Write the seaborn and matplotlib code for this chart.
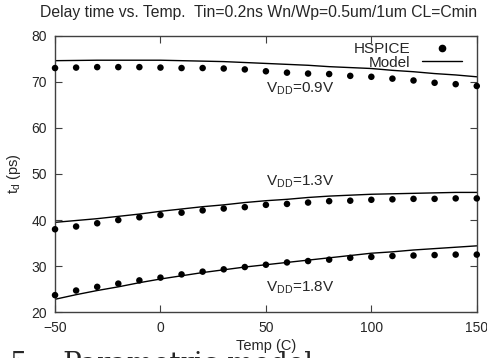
import matplotlib
matplotlib.use("Agg")
import matplotlib.pyplot as plt
from matplotlib.lines import Line2D
import seaborn as sns
import pandas as pd

# HSPICE points, every 10 C
temp_pts = [-50, -40, -30, -20, -10, 0, 10, 20, 30, 40, 50, 60, 70, 80, 90, 100, 110, 120, 130, 140, 150]
hspice_09 = [73.0, 73.1, 73.2, 73.2, 73.2, 73.1, 73.0, 73.0, 72.9, 72.7, 72.3, 72.0, 71.8, 71.7, 71.3,
             71.1, 70.7, 70.3, 69.8, 69.5, 69.1]
hspice_13 = [38.0, 38.6, 39.3, 40.0, 40.6, 41.1, 41.6, 42.1, 42.5, 42.8, 43.3, 43.5, 43.8, 44.1, 44.2,
             44.4, 44.5, 44.6, 44.6, 44.7, 44.7]
hspice_18 = [23.7, 24.7, 25.5, 26.2, 26.9, 27.5, 28.2, 28.8, 29.3, 29.8, 30.3, 30.8, 31.1, 31.4, 31.8,
             32.0, 32.2, 32.3, 32.4, 32.5, 32.5]

# model curves
temp_model = temp_pts
model_09 = [74.6, 74.65, 74.7, 74.7, 74.7, 74.7, 74.6, 74.5, 74.4, 74.2, 74.0, 73.8, 73.6, 73.3, 73.1,
            72.9, 72.5, 72.2, 71.8, 71.5, 71.1]
model_13 = [39.5, 39.9, 40.3, 40.8, 41.3, 41.9, 42.4, 42.9, 43.3, 43.8, 44.2, 44.5, 44.9, 45.2, 45.4,
            45.6, 45.7, 45.8, 45.9, 46.0, 46.0]
model_18 = [22.8, 23.8, 24.7, 25.5, 26.4, 27.2, 27.9, 28.6, 29.2, 29.8, 30.3, 30.8, 31.3, 31.8, 32.3,
            32.8, 33.1, 33.5, 33.8, 34.1, 34.4]

vdd_labels = ["0.9V", "1.3V", "1.8V"]
label_x = 50
label_y = [68.4, 48.3, 25.2]

x_ticks = [-50, 0, 50, 100, 150]
y_ticks = [20, 30, 40, 50, 60, 70, 80]

sns.set_style("ticks")
plt.rcParams['font.family'] = ['Liberation Sans', 'DejaVu Sans']
plt.rcParams['mathtext.fontset'] = 'custom'
plt.rcParams['mathtext.rm'] = 'Liberation Sans'
plt.rcParams['mathtext.it'] = 'Liberation Sans'

hs = pd.DataFrame({"temp": temp_pts * 3,
                   "td": hspice_09 + hspice_13 + hspice_18,
                   "vdd": ["0.9"] * 21 + ["1.3"] * 21 + ["1.8"] * 21})
md = pd.DataFrame({"temp": temp_model * 3,
                   "td": model_09 + model_13 + model_18,
                   "vdd": ["0.9"] * 21 + ["1.3"] * 21 + ["1.8"] * 21})

fig = plt.figure(figsize=(4.87, 3.58), dpi=100)
ax = fig.add_axes([0.113, 0.128, 0.866, 0.772])

sns.lineplot(data=md, x="temp", y="td", units="vdd", estimator=None, color="black",
             linewidth=1.0, ax=ax, legend=False)
sns.scatterplot(data=hs, x="temp", y="td", color="black", s=22, edgecolor="none",
                ax=ax, legend=False, clip_on=False, zorder=3)

for lab, yy in zip(vdd_labels, label_y):
    ax.text(label_x, yy, r"V$_{\rm DD}$=" + lab, fontsize=11, va="center", ha="left")

ax.set_xlim(-50, 150)
ax.set_ylim(20, 80)
ax.set_xticks(x_ticks)
ax.set_yticks(y_ticks)
ax.tick_params(direction="in", length=5, top=True, right=True, labelsize=10,
               color="#404040", pad=6)
for sp in ax.spines.values():
    sp.set_color("#404040")
    sp.set_linewidth(1.0)

ax.set_xlabel("Temp (C)", fontsize=10.5, labelpad=3)
ax.set_ylabel(r"t$_{\rm d}$ (ps)", fontsize=10.5, labelpad=6)
fig.text(0.53, 1 - 12 / 358, "Delay time vs. Temp.  Tin=0.2ns Wn/Wp=0.5um/1um CL=Cmin",
         fontsize=11.3, ha="center", va="center")

handles = [Line2D([], [], marker="o", linestyle="none", color="black", markersize=4.5),
           Line2D([], [], color="black", linewidth=1.0)]
ax.legend(handles, ["HSPICE", "Model"], loc="upper right", markerfirst=False, frameon=False,
          fontsize=11, handlelength=2.6, borderaxespad=0.3, labelspacing=-0.05,
          bbox_to_anchor=(0.99, 1.015))

fig.text(0.02, 1 - 372 / 358, "5.   Parametric model", family="DejaVu Serif", fontsize=20,
         va="baseline", ha="left")

fig.savefig("out.png", dpi=100)
